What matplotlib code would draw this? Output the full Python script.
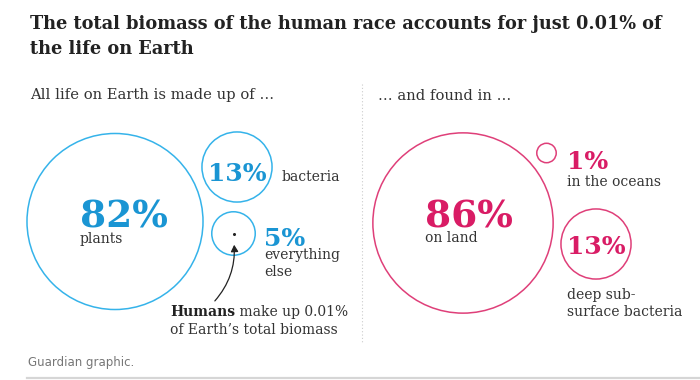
import numpy as np
import matplotlib.pyplot as plt
from matplotlib.patches import Circle, FancyArrowPatch

life_pct = [82, 13, 5]
life_labels = ['plants', 'bacteria', 'everything\nelse']
place_pct = [86, 1, 13]
place_labels = ['on land', 'in the oceans', 'deep sub-\nsurface bacteria']
human_pct = 0.01

title = ['The total biomass of the human race accounts for just 0.01% of',
         'the life on Earth']
sub_left = 'All life on Earth is made up of \u2026'
sub_right = '\u2026 and found in \u2026'
note_bold = 'Humans'
note_rest = ' make up 0.01%\nof Earth\u2019s total biomass'
source = 'Guardian graphic.'

blue_txt = '#1a95d3'
blue_line = '#35b3ea'
pink_txt = '#d91c65'
pink_line = '#df3f79'
dark = '#222222'
body = '#333333'

k = 9.72  # px of radius per sqrt(percent)

def rad(p):
    return k * np.sqrt(p)

fig = plt.figure(figsize=(7, 3.8), dpi=100)
ax = fig.add_axes([0, 0, 1, 1])
ax.set_xlim(0, 700)
ax.set_ylim(380, 0)
ax.axis('off')

serif = 'DejaVu Serif'

def txt(x, y, s, size=10, **kw):
    kw.setdefault('color', body)
    kw.setdefault('family', serif)
    return ax.text(x, y, s, fontsize=size, va='baseline', **kw)

# title + subtitles
txt(30, 29, title[0], 12.8, fontweight='bold', color=dark)
txt(30, 54, title[1], 12.8, fontweight='bold', color=dark)
txt(30, 99.5, sub_left, 10.6)
txt(378, 99.5, sub_right, 10.6)

# divider
ax.plot([362, 362], [84, 342], color='#cccccc', lw=0.8, ls=(0, (1, 2)))

# left group
left_xy = [(115, 221.5), (237, 167), (233.5, 233.5)]
for (cx, cy), p in zip(left_xy, life_pct):
    ax.add_patch(Circle((cx, cy), rad(p), fill=False, ec=blue_line, lw=1.1))

txt(80, 227, f'{life_pct[0]}%', 27, fontweight='bold', color=blue_txt)
txt(80, 243, life_labels[0])
txt(237, 181, f'{life_pct[1]}%', 18, fontweight='bold', color=blue_txt, ha='center')
txt(282, 181, life_labels[1])
txt(264, 245.5, f'{life_pct[2]}%', 18, fontweight='bold', color=blue_txt)
el = life_labels[2].split('\n')
txt(264, 259, el[0])
txt(264, 276.5, el[1])

# humans: a dot and an arrow
ax.plot(233.5, 233.5, 'o', ms=1.2, color=dark)
arr = FancyArrowPatch((213, 303), (234, 242), arrowstyle='-|>,head_length=4,head_width=2.2',
                      connectionstyle='arc3,rad=0.22', color=dark, lw=0.9)
ax.add_patch(arr)
t = txt(170, 316, note_bold, fontweight='bold', color=dark)
fig.canvas.draw()
bb = t.get_window_extent()
x_end = ax.transData.inverted().transform((bb.x1, bb.y0))[0]
lines = note_rest.split('\n')
txt(x_end, 316, lines[0])
txt(170, 334, lines[1])

# right group
right_xy = [(463, 223), (546.5, 153), (596, 244)]
for (cx, cy), p in zip(right_xy, place_pct):
    ax.add_patch(Circle((cx, cy), rad(p), fill=False, ec=pink_line, lw=1.1))

txt(425, 227, f'{place_pct[0]}%', 27, fontweight='bold', color=pink_txt)
txt(425, 242.5, place_labels[0])
txt(567, 169, f'{place_pct[1]}%', 18, fontweight='bold', color=pink_txt)
txt(567, 186, place_labels[1])
txt(596, 254.5, f'{place_pct[2]}%', 18, fontweight='bold', color=pink_txt, ha='center')
pl = place_labels[2].split('\n')
txt(567, 299, pl[0])
txt(567, 316, pl[1])

# footer
txt(28, 366, source, 8.5, family='DejaVu Sans', color='#767676')
ax.plot([27, 700], [377.5, 377.5], color='#d6d6d6', lw=1.6)

fig.savefig('out.png', dpi=100)
